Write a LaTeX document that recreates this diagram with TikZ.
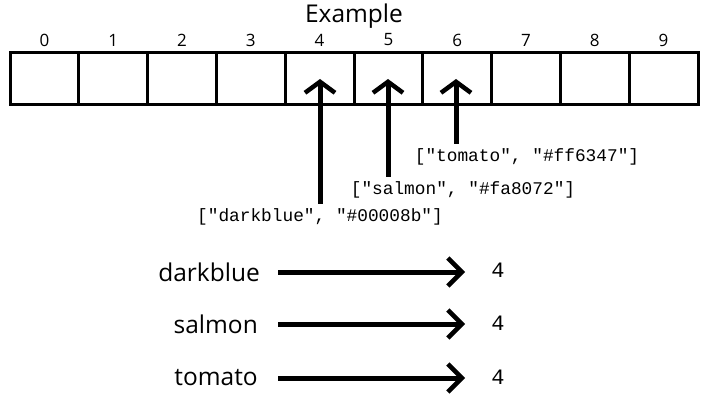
\documentclass[tikz,border=0pt]{standalone}
\usepackage{fontspec}
\setmainfont{Open Sans}
\newfontfamily\codefont{Liberation Mono}
\usetikzlibrary{arrows.meta}
\begin{document}
\begin{tikzpicture}[x=1pt,y=1pt,
  cell/.style={draw, line width=3pt, minimum width=68.8pt, minimum height=52pt, inner sep=0pt, outer sep=0pt},
  idx/.style={font=\fontsize{17}{19}\selectfont, inner sep=0pt},
  code/.style={font=\codefont\fontsize{17.8}{20}\selectfont, inner sep=1pt},
  val/.style={font=\codefont\fontsize{22}{24}\selectfont, inner sep=0pt},
  word/.style={font=\fontsize{24.5}{28}\selectfont, inner sep=0pt},
  uparrow/.style={line width=5pt, -{Straight Barb[length=11pt,width=30pt,line width=4.5pt]}},
  rarrow/.style={line width=5pt, -{Straight Barb[length=14pt,width=28pt,line width=4.5pt]}}]
\useasboundingbox (0,0) rectangle (709,-406);
\node[font=\fontsize{24.5}{28}\selectfont] (title) at (354,-16) {Example};
\foreach \i in {0,...,9}{
  \node[cell] (c\i) at ({10+34.4+68.8*\i},-79) {};
  \node[idx] (n\i) at ({10+34.4+68.8*\i},-40) {\i};
}
\coordinate (t4) at (320,-79);
\coordinate (t5) at (388,-79);
\coordinate (t6) at (456,-79);
\node[code] (tom) at (527,-157) {["tomato", "\#ff6347"]};
\node[code] (sal) at (463,-190) {["salmon", "\#fa8072"]};
\node[code] (dbl) at (320,-217) {["darkblue", "\#00008b"]};
\draw[uparrow] (dbl.north -| t4) ++(0,4) -- (t4);
\draw[uparrow] (sal.north -| t5) ++(0,4) -- (t5);
\draw[uparrow] (tom.north -| t6) ++(0,4) -- (t6);
\node[word, anchor=east] (wd) at (260,-272) {darkblue};
\node[word, anchor=east] (ws) at (258,-324) {salmon};
\node[word, anchor=east] (wt) at (258,-378) {tomato};
\node[val] (v1) at (498,-270) {4};
\node[val] (v2) at (498,-323) {4};
\node[val] (v3) at (498,-377) {4};
\coordinate (e1) at (465,-272);
\coordinate (e2) at (465,-324);
\coordinate (e3) at (465,-378);
\draw[rarrow] (wd.east) ++(18,0) -- (e1);
\draw[rarrow] (ws.east) ++(20,0) -- (e2);
\draw[rarrow] (wt.east) ++(20,0) -- (e3);
\end{tikzpicture}
\end{document}
